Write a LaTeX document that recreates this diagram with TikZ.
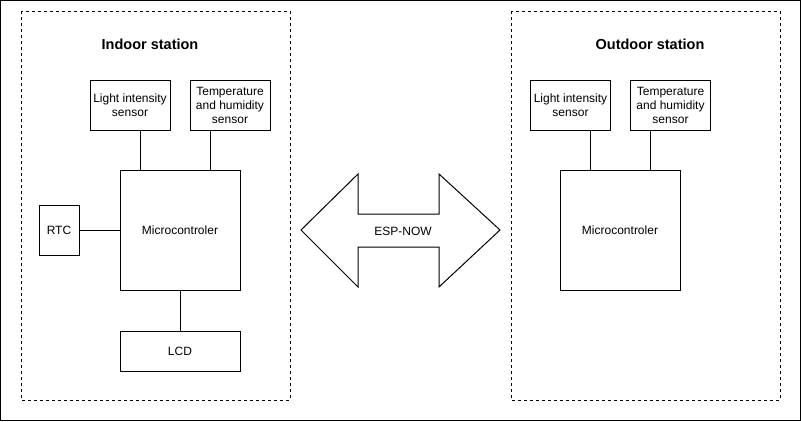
\documentclass[tikz,border=0pt]{standalone}
\usepackage{fontspec}
\setmainfont{Liberation Sans}
\usepackage{tikz}
\usetikzlibrary{positioning,calc}
\tikzset{
    block/.style={
        rectangle,
        draw=black,
        line width=1pt,
        align=center,
        inner sep=1pt,
        font=\fontsize{12}{14}\selectfont
    },
    station/.style={
        draw=black,
        line width=1pt,
        dash pattern=on 3pt off 3pt
    },
    wire/.style={
        line width=1pt
    },
    title/.style={
        font=\fontsize{14.5}{17}\selectfont\bfseries
    }
}

\begin{document}
\begin{tikzpicture}[x=1pt,y=-1pt]
\useasboundingbox (0,0) rectangle (801,421);
\draw[line width=1pt] (0.5,0.5) rectangle (800.5,420.5);

% Indoor station
\draw[station] (21,11) rectangle (290,400);
\node[title] (in-title) at (150,44) {Indoor station};
\node[block, minimum width=80pt, minimum height=50pt] (in-light) at (130,105) {Light intensity\\sensor};
\node[block, minimum width=80pt, minimum height=50pt] (in-temp) at (230,105) {Temperature\\and humidity\\sensor};
\node[block, minimum width=120pt, minimum height=120pt] (in-mcu) at (180,230) {Microcontroler};
\node[block, minimum width=40pt, minimum height=50pt, left=40pt of in-mcu] (in-rtc) {RTC};
\node[block, minimum width=120pt, minimum height=40pt, below=40pt of in-mcu] (in-lcd) {LCD};

\draw[wire] ([xshift=-40pt]in-mcu.north) -- ([xshift=-40pt]in-mcu.north |- in-light.south);
\draw[wire] ([xshift=30pt]in-mcu.north) -- ([xshift=30pt]in-mcu.north |- in-temp.south);
\draw[wire] (in-rtc.east) -- (in-mcu.west);
\draw[wire] (in-mcu.south) -- (in-lcd.north);

% Outdoor station
\draw[station] (511,11) rectangle (780,400);
\node[title] (out-title) at (650,44) {Outdoor station};
\node[block, minimum width=80pt, minimum height=50pt] (out-light) at (570.5,105) {Light intensity\\sensor};
\node[block, minimum width=80pt, minimum height=50pt] (out-temp) at (670.5,105) {Temperature\\and humidity\\sensor};
\node[block, minimum width=120pt, minimum height=120pt] (out-mcu) at (620,230) {Microcontroler};

\draw[wire] ([xshift=-30pt]out-mcu.north) -- ([xshift=-30pt]out-mcu.north |- out-light.south);
\draw[wire] ([xshift=30pt]out-mcu.north) -- ([xshift=30pt]out-mcu.north |- out-temp.south);

% ESP-NOW link
\draw[line width=1pt, line join=miter] (301,230) -- (358,174) -- (358,214) -- (439,214) -- (439,174)
    -- (500,230) -- (439,287) -- (439,247) -- (358,247) -- (358,287) -- cycle;
\node[font=\fontsize{12}{14}\selectfont] (esp) at (403,231) {ESP-NOW};
\end{tikzpicture}
\end{document}
